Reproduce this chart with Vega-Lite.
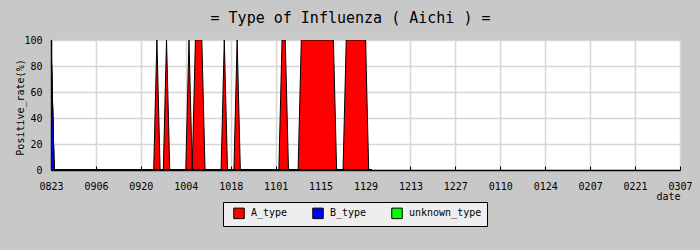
{
  "$schema": "https://vega.github.io/schema/vega-lite/v6.json",
  "width": 629,
  "height": 130,
  "autosize": {"type": "none"},
  "padding": {"left": 51, "top": 40, "right": 20, "bottom": 80},
  "background": "#c8c8c8",
  "title": {
    "text": "= Type of Influenza ( Aichi ) =",
    "font": "DejaVu Sans Mono",
    "fontSize": 15,
    "fontWeight": "normal",
    "color": "black",
    "frame": "group",
    "anchor": "middle",
    "dx": -15,
    "baseline": "alphabetic",
    "offset": -3
  },
  "data": {
    "values": [
      {"date": "2009-08-23", "A_type": 0, "B_type": 100, "unknown_type": 0},
      {"date": "2009-08-24", "A_type": 0, "B_type": 0, "unknown_type": 0},
      {"date": "2009-08-25", "A_type": 0, "B_type": 0, "unknown_type": 0},
      {"date": "2009-08-26", "A_type": 0, "B_type": 0, "unknown_type": 0},
      {"date": "2009-08-27", "A_type": 0, "B_type": 0, "unknown_type": 0},
      {"date": "2009-08-28", "A_type": 0, "B_type": 0, "unknown_type": 0},
      {"date": "2009-08-29", "A_type": 0, "B_type": 0, "unknown_type": 0},
      {"date": "2009-08-30", "A_type": 0, "B_type": 0, "unknown_type": 0},
      {"date": "2009-08-31", "A_type": 0, "B_type": 0, "unknown_type": 0},
      {"date": "2009-09-01", "A_type": 0, "B_type": 0, "unknown_type": 0},
      {"date": "2009-09-02", "A_type": 0, "B_type": 0, "unknown_type": 0},
      {"date": "2009-09-03", "A_type": 0, "B_type": 0, "unknown_type": 0},
      {"date": "2009-09-04", "A_type": 0, "B_type": 0, "unknown_type": 0},
      {"date": "2009-09-05", "A_type": 0, "B_type": 0, "unknown_type": 0},
      {"date": "2009-09-06", "A_type": 0, "B_type": 0, "unknown_type": 0},
      {"date": "2009-09-07", "A_type": 0, "B_type": 0, "unknown_type": 0},
      {"date": "2009-09-08", "A_type": 0, "B_type": 0, "unknown_type": 0},
      {"date": "2009-09-09", "A_type": 0, "B_type": 0, "unknown_type": 0},
      {"date": "2009-09-10", "A_type": 0, "B_type": 0, "unknown_type": 0},
      {"date": "2009-09-11", "A_type": 0, "B_type": 0, "unknown_type": 0},
      {"date": "2009-09-12", "A_type": 0, "B_type": 0, "unknown_type": 0},
      {"date": "2009-09-13", "A_type": 0, "B_type": 0, "unknown_type": 0},
      {"date": "2009-09-14", "A_type": 0, "B_type": 0, "unknown_type": 0},
      {"date": "2009-09-15", "A_type": 0, "B_type": 0, "unknown_type": 0},
      {"date": "2009-09-16", "A_type": 0, "B_type": 0, "unknown_type": 0},
      {"date": "2009-09-17", "A_type": 0, "B_type": 0, "unknown_type": 0},
      {"date": "2009-09-18", "A_type": 0, "B_type": 0, "unknown_type": 0},
      {"date": "2009-09-19", "A_type": 0, "B_type": 0, "unknown_type": 0},
      {"date": "2009-09-20", "A_type": 0, "B_type": 0, "unknown_type": 0},
      {"date": "2009-09-21", "A_type": 0, "B_type": 0, "unknown_type": 0},
      {"date": "2009-09-22", "A_type": 0, "B_type": 0, "unknown_type": 0},
      {"date": "2009-09-23", "A_type": 0, "B_type": 0, "unknown_type": 0},
      {"date": "2009-09-24", "A_type": 0, "B_type": 0, "unknown_type": 0},
      {"date": "2009-09-25", "A_type": 100, "B_type": 0, "unknown_type": 0},
      {"date": "2009-09-26", "A_type": 0, "B_type": 0, "unknown_type": 0},
      {"date": "2009-09-27", "A_type": 0, "B_type": 0, "unknown_type": 0},
      {"date": "2009-09-28", "A_type": 100, "B_type": 0, "unknown_type": 0},
      {"date": "2009-09-29", "A_type": 0, "B_type": 0, "unknown_type": 0},
      {"date": "2009-09-30", "A_type": 0, "B_type": 0, "unknown_type": 0},
      {"date": "2009-10-01", "A_type": 0, "B_type": 0, "unknown_type": 0},
      {"date": "2009-10-02", "A_type": 0, "B_type": 0, "unknown_type": 0},
      {"date": "2009-10-03", "A_type": 0, "B_type": 0, "unknown_type": 0},
      {"date": "2009-10-04", "A_type": 0, "B_type": 0, "unknown_type": 0},
      {"date": "2009-10-05", "A_type": 100, "B_type": 0, "unknown_type": 0},
      {"date": "2009-10-06", "A_type": 0, "B_type": 0, "unknown_type": 0},
      {"date": "2009-10-07", "A_type": 100, "B_type": 0, "unknown_type": 0},
      {"date": "2009-10-08", "A_type": 100, "B_type": 0, "unknown_type": 0},
      {"date": "2009-10-09", "A_type": 100, "B_type": 0, "unknown_type": 0},
      {"date": "2009-10-10", "A_type": 0, "B_type": 0, "unknown_type": 0},
      {"date": "2009-10-11", "A_type": 0, "B_type": 0, "unknown_type": 0},
      {"date": "2009-10-12", "A_type": 0, "B_type": 0, "unknown_type": 0},
      {"date": "2009-10-13", "A_type": 0, "B_type": 0, "unknown_type": 0},
      {"date": "2009-10-14", "A_type": 0, "B_type": 0, "unknown_type": 0},
      {"date": "2009-10-15", "A_type": 0, "B_type": 0, "unknown_type": 0},
      {"date": "2009-10-16", "A_type": 100, "B_type": 0, "unknown_type": 0},
      {"date": "2009-10-17", "A_type": 0, "B_type": 0, "unknown_type": 0},
      {"date": "2009-10-18", "A_type": 0, "B_type": 0, "unknown_type": 0},
      {"date": "2009-10-19", "A_type": 0, "B_type": 0, "unknown_type": 0},
      {"date": "2009-10-20", "A_type": 100, "B_type": 0, "unknown_type": 0},
      {"date": "2009-10-21", "A_type": 0, "B_type": 0, "unknown_type": 0},
      {"date": "2009-10-22", "A_type": 0, "B_type": 0, "unknown_type": 0},
      {"date": "2009-10-23", "A_type": 0, "B_type": 0, "unknown_type": 0},
      {"date": "2009-10-24", "A_type": 0, "B_type": 0, "unknown_type": 0},
      {"date": "2009-10-25", "A_type": 0, "B_type": 0, "unknown_type": 0},
      {"date": "2009-10-26", "A_type": 0, "B_type": 0, "unknown_type": 0},
      {"date": "2009-10-27", "A_type": 0, "B_type": 0, "unknown_type": 0},
      {"date": "2009-10-28", "A_type": 0, "B_type": 0, "unknown_type": 0},
      {"date": "2009-10-29", "A_type": 0, "B_type": 0, "unknown_type": 0},
      {"date": "2009-10-30", "A_type": 0, "B_type": 0, "unknown_type": 0},
      {"date": "2009-10-31", "A_type": 0, "B_type": 0, "unknown_type": 0},
      {"date": "2009-11-01", "A_type": 0, "B_type": 0, "unknown_type": 0},
      {"date": "2009-11-02", "A_type": 0, "B_type": 0, "unknown_type": 0},
      {"date": "2009-11-03", "A_type": 100, "B_type": 0, "unknown_type": 0},
      {"date": "2009-11-04", "A_type": 100, "B_type": 0, "unknown_type": 0},
      {"date": "2009-11-05", "A_type": 0, "B_type": 0, "unknown_type": 0},
      {"date": "2009-11-06", "A_type": 0, "B_type": 0, "unknown_type": 0},
      {"date": "2009-11-07", "A_type": 0, "B_type": 0, "unknown_type": 0},
      {"date": "2009-11-08", "A_type": 0, "B_type": 0, "unknown_type": 0},
      {"date": "2009-11-09", "A_type": 100, "B_type": 0, "unknown_type": 0},
      {"date": "2009-11-10", "A_type": 100, "B_type": 0, "unknown_type": 0},
      {"date": "2009-11-11", "A_type": 100, "B_type": 0, "unknown_type": 0},
      {"date": "2009-11-12", "A_type": 100, "B_type": 0, "unknown_type": 0},
      {"date": "2009-11-13", "A_type": 100, "B_type": 0, "unknown_type": 0},
      {"date": "2009-11-14", "A_type": 100, "B_type": 0, "unknown_type": 0},
      {"date": "2009-11-15", "A_type": 100, "B_type": 0, "unknown_type": 0},
      {"date": "2009-11-16", "A_type": 100, "B_type": 0, "unknown_type": 0},
      {"date": "2009-11-17", "A_type": 100, "B_type": 0, "unknown_type": 0},
      {"date": "2009-11-18", "A_type": 100, "B_type": 0, "unknown_type": 0},
      {"date": "2009-11-19", "A_type": 100, "B_type": 0, "unknown_type": 0},
      {"date": "2009-11-20", "A_type": 0, "B_type": 0, "unknown_type": 0},
      {"date": "2009-11-21", "A_type": 0, "B_type": 0, "unknown_type": 0},
      {"date": "2009-11-22", "A_type": 0, "B_type": 0, "unknown_type": 0},
      {"date": "2009-11-23", "A_type": 100, "B_type": 0, "unknown_type": 0},
      {"date": "2009-11-24", "A_type": 100, "B_type": 0, "unknown_type": 0},
      {"date": "2009-11-25", "A_type": 100, "B_type": 0, "unknown_type": 0},
      {"date": "2009-11-26", "A_type": 100, "B_type": 0, "unknown_type": 0},
      {"date": "2009-11-27", "A_type": 100, "B_type": 0, "unknown_type": 0},
      {"date": "2009-11-28", "A_type": 100, "B_type": 0, "unknown_type": 0},
      {"date": "2009-11-29", "A_type": 100, "B_type": 0, "unknown_type": 0},
      {"date": "2009-11-30", "A_type": 0, "B_type": 0, "unknown_type": 0},
      {"date": "2009-12-01", "A_type": 0, "B_type": 0, "unknown_type": 0}
    ]
  },
  "transform": [{"fold": ["A_type", "B_type", "unknown_type"], "as": ["type", "rate"]}],
  "mark": {"type": "area", "stroke": "black", "strokeWidth": 1, "interpolate": "linear", "opacity": 1, "clip": true},
  "encoding": {
    "x": {
      "field": "date",
      "type": "temporal",
      "scale": {
        "type": "utc",
        "domain": [
          {"year": 2009, "month": 8, "date": 23, "utc": true},
          {"year": 2010, "month": 3, "date": 7, "utc": true}
        ]
      },
      "axis": {
        "values": [
          {"year": 2009, "month": 8, "date": 23, "utc": true},
          {"year": 2009, "month": 9, "date": 6, "utc": true},
          {"year": 2009, "month": 9, "date": 20, "utc": true},
          {"year": 2009, "month": 10, "date": 4, "utc": true},
          {"year": 2009, "month": 10, "date": 18, "utc": true},
          {"year": 2009, "month": 11, "date": 1, "utc": true},
          {"year": 2009, "month": 11, "date": 15, "utc": true},
          {"year": 2009, "month": 11, "date": 29, "utc": true},
          {"year": 2009, "month": 12, "date": 13, "utc": true},
          {"year": 2009, "month": 12, "date": 27, "utc": true},
          {"year": 2010, "month": 1, "date": 10, "utc": true},
          {"year": 2010, "month": 1, "date": 24, "utc": true},
          {"year": 2010, "month": 2, "date": 7, "utc": true},
          {"year": 2010, "month": 2, "date": 21, "utc": true},
          {"year": 2010, "month": 3, "date": 7, "utc": true}
        ],
        "format": "%m%d",
        "grid": true,
        "gridColor": "#d6d6d6",
        "gridWidth": 1.5,
        "domainColor": "black",
        "domainWidth": 1.5,
        "tickColor": "black",
        "tickSize": -4,
        "labelPadding": 15,
        "labelAngle": 0,
        "labelFlush": false,
        "labelOverlap": false,
        "labelFont": "DejaVu Sans Mono",
        "labelFontSize": 10,
        "labelColor": "black",
        "title": "date",
        "titleFont": "DejaVu Sans Mono",
        "titleFontSize": 10,
        "titleFontWeight": "normal",
        "titleColor": "black",
        "titleX": 629,
        "titleY": 29,
        "titleAlign": "right",
        "titleBaseline": "alphabetic"
      }
    },
    "y": {
      "field": "rate",
      "type": "quantitative",
      "stack": "zero",
      "scale": {"domain": [0, 100], "nice": false},
      "axis": {
        "values": [0, 20, 40, 60, 80, 100],
        "grid": true,
        "gridColor": "#d6d6d6",
        "gridWidth": 1.5,
        "domainColor": "black",
        "domainWidth": 1.5,
        "ticks": false,
        "labelPadding": 9,
        "labelFont": "DejaVu Sans Mono",
        "labelFontSize": 10,
        "labelColor": "black",
        "title": "Positive_rate(%)",
        "titleFont": "DejaVu Sans Mono",
        "titleFontSize": 10,
        "titleFontWeight": "normal",
        "titleColor": "black",
        "titleX": -31,
        "titleY": 67,
        "titleAngle": -90,
        "titleAlign": "center",
        "titleBaseline": "middle"
      }
    },
    "color": {
      "field": "type",
      "type": "nominal",
      "scale": {
        "domain": ["A_type", "B_type", "unknown_type"],
        "range": ["#ff0000", "#0000ff", "#00ff00"]
      },
      "legend": {
        "orient": "none",
        "legendX": 172,
        "legendY": 162,
        "direction": "horizontal",
        "title": null,
        "fillColor": "#eeeeee",
        "strokeColor": "black",
        "padding": 5,
        "symbolType": "square",
        "symbolSize": 110,
        "symbolStrokeColor": "black",
        "symbolStrokeWidth": 1,
        "symbolOpacity": 1,
        "symbolOffset": 5,
        "labelOffset": 6,
        "columnPadding": 19,
        "labelFont": "DejaVu Sans Mono",
        "labelFontSize": 10,
        "labelColor": "black"
      }
    }
  },
  "config": {
    "view": {"fill": "white", "stroke": null}
  }
}
